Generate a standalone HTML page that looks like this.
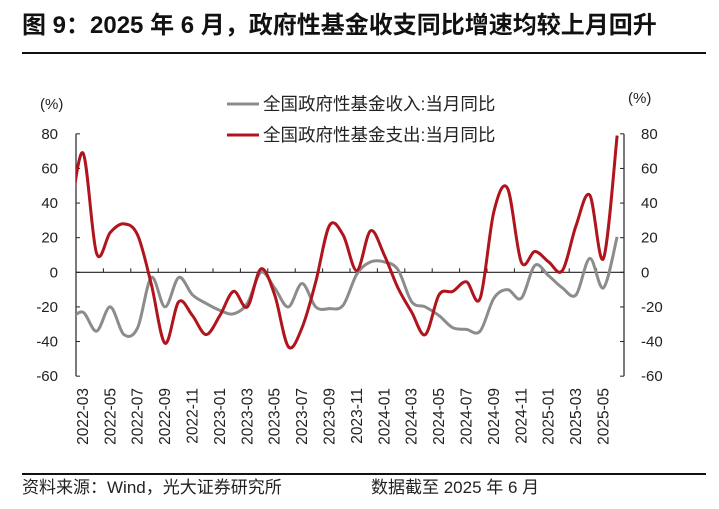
<!DOCTYPE html>
<html><head><meta charset="utf-8"><style>
body{margin:0;background:#fff;width:719px;height:509px;overflow:hidden}
svg{display:block;font-family:"Liberation Sans","Noto Sans CJK SC",sans-serif}
</style></head><body>
<svg id="c" width="719" height="509">
<defs><clipPath id="plotclip"><rect x="76" y="100" width="548" height="290"/></clipPath></defs>
<text x="22" y="33" font-size="24" font-weight="bold" fill="#111">图 9：2025 年 6 月，政府性基金收支同比增速均较上月回升</text>
<line x1="22" y1="53" x2="706" y2="53" stroke="#111" stroke-width="2"/>
<text x="40" y="109" font-size="15" fill="#222">(%)</text>
<text x="628" y="103" font-size="15" fill="#222">(%)</text>
<g>
<line x1="227" y1="104" x2="259" y2="104" stroke="#8c8c8c" stroke-width="3"/>
<text x="263" y="110" font-size="17.5" fill="#222">全国政府性基金收入:当月同比</text>
<line x1="227" y1="135" x2="259" y2="135" stroke="#b0141c" stroke-width="3"/>
<text x="263" y="141" font-size="17.5" fill="#222">全国政府性基金支出:当月同比</text>
</g>
<g id="axes"></g>
<g id="series" clip-path="url(#plotclip)"></g>
<line x1="22" y1="474" x2="706" y2="474" stroke="#111" stroke-width="2"/>
<text x="22" y="493" font-size="17" fill="#222">资料来源：Wind，光大证券研究所</text>
<text x="371" y="493" font-size="17" fill="#222">数据截至 2025 年 6 月</text>
</svg>
<script>
const months = [];
for (let y = 2022, m = 3; months.length < 40; m++) { if (m > 12) { m = 1; y++; } months.push(y + '-' + String(m).padStart(2, '0')); }
const yTicks = [80, 60, 40, 20, 0, -20, -40, -60];
const incomeValues = [-23,-34,-20,-36,-32,-3,-20,-3,-13,-18,-22,-24,-18,0,-9,-20,-6.5,-20,-21,-19,-1,6,6,1.5,-17,-20,-25,-32,-33,-34,-15,-10,-15,4,-2,-9,-13,8,-9,20.5];
const expenseValues = [69,11,23,28,21.5,-7,-41,-17,-25,-36,-25,-11,-20,2,-13,-43,-32,-5.5,27,21.5,1,24,10,-9,-23,-36,-13,-11,-5.5,-15,35,48.5,6,12,6,1,27,44.6,8,79];
// prior month (2022-02), partially visible at the left edge
const incomePrev = -28;
const expensePrev = 27;
const NS = 'http://www.w3.org/2000/svg';
const L = 76, R = 624, Y0 = 272.3, PPU = 1.731;
const step = (R - L) / months.length;
const xs = i => L + step * (i + 0.5);
const ys = v => Y0 - v * PPU;
function mk(tag, attrs, parent, text) {
  const e = document.createElementNS(NS, tag);
  for (const k in attrs) e.setAttribute(k, attrs[k]);
  if (text !== undefined) e.textContent = text;
  parent.appendChild(e); return e;
}
const ax = document.getElementById('axes');
let e;
e = mk('line', {x1: L, y1: ys(80), x2: L, y2: ys(-60), stroke: '#222', 'stroke-width': 1.2}, ax);


e = mk('line', {x1: R, y1: ys(80), x2: R, y2: ys(-60), stroke: '#222', 'stroke-width': 1.2}, ax);


e = mk('line', {x1: L, y1: ys(0), x2: R, y2: ys(0), stroke: '#222', 'stroke-width': 1.2}, ax);


yTicks.forEach(t => {
  mk('line', {x1: L, y1: ys(t), x2: L + 4, y2: ys(t), stroke: '#222'}, ax);
  mk('line', {x1: R - 4, y1: ys(t), x2: R, y2: ys(t), stroke: '#222'}, ax);
  e = mk('text', {x: 58, y: ys(t) + 5, 'font-size': 15, 'text-anchor': 'end', fill: '#222'}, ax, String(t));
  
  
  e = mk('text', {x: 641, y: ys(t) + 5, 'font-size': 15, fill: '#222'}, ax, String(t));
  
  
});
for (let i = 2; i < months.length; i += 2) {
  const x = L + step * i;
  mk('line', {x1: x, y1: ys(0), x2: x, y2: ys(0) - 4, stroke: '#222'}, ax);
}
months.forEach((m, i) => {
  if (i % 2) return;
  const x = xs(i) + 5;
  e = mk('text', {x: x, y: 388, 'font-size': 15.5, 'text-anchor': 'end', fill: '#222', transform: 'rotate(-90 ' + x + ' 388)'}, ax, m);
  
  
});
function smooth(vals, prev) {
  const p = [[xs(-1), ys(prev)]].concat(vals.map((v, i) => [xs(i), ys(v)]));
  let d = 'M' + p[0][0] + ',' + p[0][1];
  for (let i = 0; i < p.length - 1; i++) {
    const p0 = p[i - 1] || p[i], p1 = p[i], p2 = p[i + 1], p3 = p[i + 2] || p2;
    const c1 = [p1[0] + (p2[0] - p0[0]) / 6, p1[1] + (p2[1] - p0[1]) / 6];
    const c2 = [p2[0] - (p3[0] - p1[0]) / 6, p2[1] - (p3[1] - p1[1]) / 6];
    d += 'C' + c1[0] + ',' + c1[1] + ' ' + c2[0] + ',' + c2[1] + ' ' + p2[0] + ',' + p2[1];
  }
  return d;
}
const sg = document.getElementById('series');
e = mk('path', {d: smooth(incomeValues, incomePrev), fill: 'none', stroke: '#8c8c8c', 'stroke-width': 3}, sg);


e = mk('path', {d: smooth(expenseValues, expensePrev), fill: 'none', stroke: '#b0141c', 'stroke-width': 3}, sg);


</script>
</body></html>
